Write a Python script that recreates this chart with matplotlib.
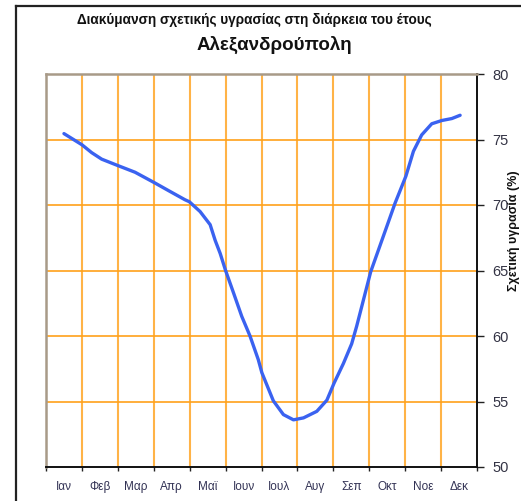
#!/usr/bin/env python3
"""Relative humidity over the year, Alexandroupoli."""

import matplotlib

matplotlib.use("Agg")
import matplotlib.pyplot as plt
from matplotlib.lines import Line2D

plt.rcParams["font.family"] = ["Liberation Sans", "DejaVu Sans"]

months = ["Ιαν", "Φεβ", "Μαρ", "Απρ", "Μαϊ", "Ιουν", "Ιουλ", "Αυγ", "Σεπ", "Οκτ", "Νοε", "Δεκ"]

# curve: position in months (0 = Ιαν) and humidity (%)
month_pos = [
    0.00, 0.50, 0.77, 1.05, 1.51, 1.98, 2.52, 2.91, 3.37, 3.49,
    3.79, 4.07, 4.21, 4.35, 4.50, 4.72, 4.95, 5.18, 5.41, 5.51,
    5.83, 6.11, 6.39, 6.67, 7.04, 7.32, 7.52, 7.78, 8.01, 8.15,
    8.54, 8.89, 9.22, 9.52, 9.73, 9.96, 10.24, 10.52, 10.80, 11.03,
]
humidity = [
    75.45, 74.6, 74.0, 73.5, 73.0, 72.5, 71.7, 71.1, 70.4, 70.25,
    69.5, 68.5, 67.3, 66.3, 65.0, 63.3, 61.5, 60.0, 58.2, 57.2,
    55.05, 54.0, 53.6, 53.75, 54.25, 55.1, 56.4, 57.9, 59.4, 60.75,
    64.9, 67.6, 70.15, 72.2, 74.1, 75.35, 76.2, 76.45, 76.6, 76.85,
]
y_ticks = [50, 55, 60, 65, 70, 75, 80]

W, H = 521, 501
fig = plt.figure(figsize=(W / 100, H / 100), dpi=100)
ax = fig.add_axes([46 / W, 1 - 467 / H, (477 - 46) / W, (467 - 74) / H])

# outer frame of the original sheet (left and top edges only are visible)
fig.add_artist(Line2D([16 / W, 16 / W], [0, 1 - 6 / H], transform=fig.transFigure, color="#222222", lw=1.6))
fig.add_artist(Line2D([16 / W, 1], [1 - 6 / H, 1 - 6 / H], transform=fig.transFigure, color="#222222", lw=1.6))

ax.plot(month_pos, humidity, color="#3a62f0", lw=2.4, solid_capstyle="round",
        solid_joinstyle="round", zorder=3)

ax.set_xlim(-0.5, len(months) - 0.5)
ax.set_ylim(50, 80)

for b in range(1, len(months)):
    ax.axvline(b - 0.5, color="#ffb347", lw=1.5, zorder=1)
for v in y_ticks[1:-1]:
    ax.axhline(v, color="#ffa11a", lw=1.2, zorder=1)

ax.yaxis.tick_right()
ax.set_yticks(y_ticks)
ax.tick_params(axis="y", direction="out", length=5, width=1, colors="#222222", labelsize=10.5,
               labelcolor="#333344", pad=6)
ax.set_xticks([b - 0.5 for b in range(len(months) + 1)])
ax.set_xticklabels([])
ax.set_xticks(range(len(months)), minor=True)
ax.set_xticklabels(months, minor=True, fontsize=8.5, color="#333355")
ax.tick_params(axis="x", which="major", direction="out", length=3, width=1, colors="#222222")
ax.tick_params(axis="x", which="minor", length=0, pad=10)

for side in ("left", "top"):
    ax.spines[side].set_color("#a89a88")
    ax.spines[side].set_linewidth(1.8)
for side in ("right", "bottom"):
    ax.spines[side].set_color("#111111")
    ax.spines[side].set_linewidth(1.4)

fig.text(254 / W, 1 - 20 / H, "Διακύμανση σχετικής υγρασίας στη διάρκεια του έτους",
         ha="center", va="center", fontsize=9.8, fontweight="bold", color="#111111")
fig.text(274 / W, 1 - 45 / H, "Αλεξανδρούπολη",
         ha="center", va="center", fontsize=13.5, fontweight="bold", color="#111111")
fig.text(520 / W, 1 - 231 / H, "Σχετική υγρασία (%)", rotation=90,
         ha="right", va="center", fontsize=9, fontweight="bold", color="#111111")

fig.savefig("out.png", dpi=100)
